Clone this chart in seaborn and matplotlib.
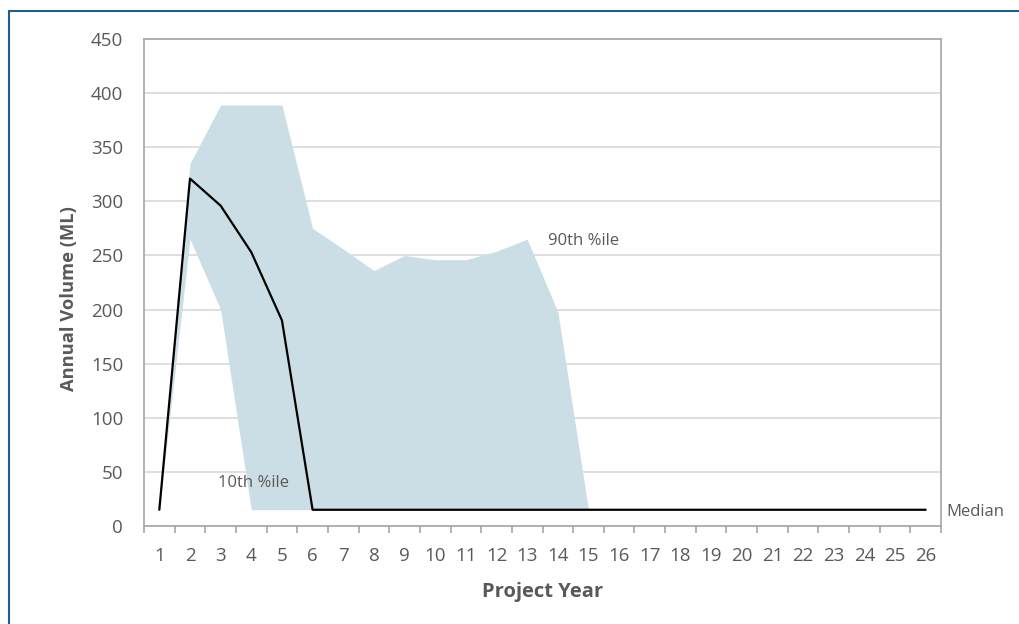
import seaborn as sns
import matplotlib.pyplot as plt
import pandas as pd

# valores
years = list(range(1, 27))
median = [15, 321, 296, 253, 190] + [15] * 21
p10 = [15, 265, 200] + [15] * 23
p90 = [15, 335, 389, 389, 389, 275, 256, 236, 250, 246, 246, 254, 265, 198] + [15] * 12

df = pd.DataFrame({'year': years, 'median': median, 'p10': p10, 'p90': p90})

sns.set_style('white')
plt.rcParams['font.family'] = ['Open Sans', 'DejaVu Sans']

grey = '#595959'
fig = plt.figure(figsize=(10.19, 6.24), dpi=100)
ax = fig.add_axes([144 / 1019, 1 - 526 / 624, 797 / 1019, 487 / 624])

# banda 10-90 percentil
ax.fill_between(df['year'], df['p10'], df['p90'], color='#CCDEE5', linewidth=0, zorder=2)
sns.lineplot(data=df, x='year', y='median', color='black', linewidth=1.6, ax=ax, zorder=3)

ax.set_xlim(0.5, 26.5)
ax.set_ylim(0, 450)
ax.set_yticks(range(0, 451, 50))
ax.set_xticks(years)
ax.set_xticks([y + 0.5 for y in range(0, 27)], minor=True)
ax.grid(axis='y', color='#D9D9D9', linewidth=1.2, zorder=0)
ax.set_axisbelow(True)

ax.tick_params(axis='x', which='major', length=0, pad=15, labelsize=13.5, labelcolor=grey)
ax.tick_params(axis='x', which='minor', length=5, width=1.2, color='#A6A6A6', direction='out', bottom=True)
ax.tick_params(axis='y', length=0, pad=15, labelsize=13.5, labelcolor=grey)

for s in ax.spines.values():
    s.set_color('#A6A6A6')
    s.set_linewidth(1.2)

ax.set_xlabel('Project Year', fontsize=14.5, fontweight='bold', color=grey)
ax.set_ylabel('Annual Volume (ML)', fontsize=13.2, fontweight='bold', color=grey)
ax.xaxis.set_label_coords(0.5, -0.115)
ax.yaxis.set_label_coords(-0.083, 0.466)

ax.text(2.92, 40, '10th %ile', fontsize=12, color=grey, va='center')
ax.text(13.68, 263, '90th %ile', fontsize=12, color=grey, va='center')
ax.text(26.67, 13, 'Median', fontsize=12, color=grey, va='center', clip_on=False)

# marco exterior
fig.add_artist(plt.Line2D([9 / 1019, 9 / 1019], [0, 1 - 11 / 624], color='#1F5F8B', linewidth=1.5))
fig.add_artist(plt.Line2D([9 / 1019, 1], [1 - 11 / 624, 1 - 11 / 624], color='#1F5F8B', linewidth=1.5))

fig.savefig('out.png', dpi=100)
